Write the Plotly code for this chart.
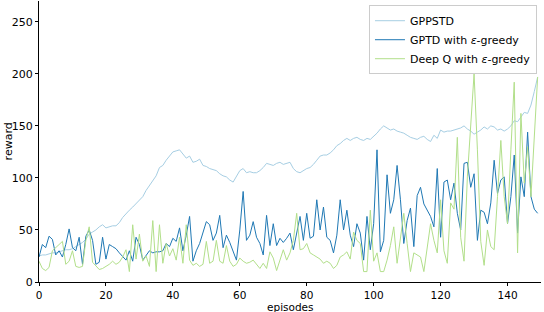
import plotly.graph_objects as go

episodes = list(range(150))

gppstd = [25, 26, 26, 27, 28, 28, 29, 30, 31, 31, 32, 34, 36, 38, 41, 46, 48, 50, 53, 55,
          52, 53, 54, 54, 57, 62, 66, 69, 72, 75, 78, 82, 88, 93, 98, 102, 110, 112, 117, 121,
          125, 126, 127, 123, 119, 121, 115, 116, 118, 112, 111, 109, 108, 107, 104, 102, 101, 98, 96, 101,
          107, 109, 105, 106, 105, 105, 107, 110, 114, 113, 112, 114, 115, 113, 114, 115, 109, 106, 105, 107,
          109, 110, 113, 117, 121, 122, 122, 124, 127, 131, 133, 136, 138, 136, 138, 139, 137, 136, 138, 137,
          140, 143, 147, 150, 148, 146, 147, 145, 144, 143, 141, 139, 138, 137, 139, 140, 137, 135, 141, 138,
          146, 144, 145, 145, 146, 147, 148, 150, 147, 145, 142, 144, 146, 149, 147, 150, 149, 146, 147, 145,
          147, 150, 155, 154, 158, 163, 162, 170, 183, 197]

gptd = [24, 36, 33, 44, 41, 26, 30, 24, 36, 51, 33, 30, 43, 17, 44, 50, 40, 17, 19, 43,
        22, 36, 34, 32, 28, 24, 21, 30, 20, 43, 36, 21, 26, 30, 28, 29, 29, 30, 37, 34,
        42, 39, 52, 30, 45, 63, 20, 30, 37, 47, 58, 55, 40, 47, 64, 33, 45, 38, 30, 21,
        50, 87, 40, 45, 58, 43, 37, 26, 64, 35, 56, 35, 42, 38, 42, 47, 31, 47, 63, 40,
        66, 42, 44, 79, 50, 72, 43, 40, 28, 45, 79, 50, 69, 45, 34, 56, 47, 21, 63, 31,
        56, 127, 29, 40, 103, 66, 79, 112, 79, 37, 59, 71, 34, 83, 91, 75, 69, 63, 53, 109,
        43, 96, 98, 79, 95, 66, 50, 114, 115, 91, 104, 40, 69, 67, 56, 76, 117, 85, 98, 101,
        56, 82, 122, 47, 101, 82, 144, 82, 70, 66]

deepq = [20, 13, 11, 14, 30, 33, 36, 39, 17, 20, 30, 15, 14, 15, 40, 53, 19, 15, 12, 13,
         15, 17, 20, 17, 19, 24, 31, 10, 55, 22, 46, 20, 25, 15, 59, 10, 55, 18, 37, 25,
         32, 21, 43, 18, 55, 21, 16, 18, 15, 17, 39, 18, 20, 40, 20, 18, 35, 20, 15, 17,
         23, 20, 18, 19, 21, 17, 13, 18, 13, 29, 23, 11, 20, 31, 21, 28, 40, 66, 31, 32,
         37, 28, 26, 24, 22, 18, 20, 18, 13, 16, 24, 26, 29, 22, 48, 40, 37, 10, 10, 69,
         20, 28, 10, 10, 21, 35, 53, 18, 40, 66, 37, 10, 28, 26, 24, 10, 34, 56, 40, 28,
         79, 30, 18, 76, 70, 139, 43, 20, 101, 150, 200, 127, 39, 16, 50, 34, 31, 82, 136, 82,
         56, 127, 192, 28, 162, 95, 130, 82, 144, 197]

series_names = ["GPPSTD", "GPTD with <i>ε</i>-greedy", "Deep Q with <i>ε</i>-greedy"]
series_colors = ["#a6cee3", "#1f78b4", "#b2df8a"]
x_ticks = [0, 20, 40, 60, 80, 100, 120, 140]
y_ticks = [0, 50, 100, 150, 200, 250]

fig = go.Figure()
for name, vals, col in zip(series_names, [gppstd, gptd, deepq], series_colors):
    fig.add_trace(go.Scatter(x=episodes, y=vals, mode="lines", name=name,
                             line=dict(color=col, width=1)))

axis_common = dict(showgrid=False, zeroline=False, showline=True, linecolor="black",
                   linewidth=1, ticks="outside", ticklen=3, tickwidth=1, tickcolor="black",
                   mirror=False, automargin=False)

fig.update_layout(
    width=544, height=312,
    margin=dict(l=39, r=3, t=1, b=30),
    paper_bgcolor="white", plot_bgcolor="white",
    font=dict(family="DejaVu Sans", size=11, color="black"),
    xaxis=dict(range=[0, 150], tickvals=x_ticks,
               tickfont=dict(size=10.5, color="black"), **axis_common),
    yaxis=dict(range=[0, 270], tickvals=y_ticks,
               tickfont=dict(size=11, color="black"), **axis_common),
    legend=dict(x=0.992, y=0.985, xanchor="right", yanchor="top",
                bgcolor="rgba(255,255,255,0.8)", bordercolor="#cccccc", borderwidth=1,
                font=dict(size=11), itemwidth=30, tracegroupgap=0),
    annotations=[
        dict(text="episodes", xref="paper", yref="paper", x=0.5, y=-0.088,
             xanchor="center", yanchor="middle", showarrow=False, borderpad=0,
             font=dict(size=10.5)),
        dict(text="reward", xref="paper", yref="paper", x=-0.06, y=0.5,
             xanchor="center", yanchor="middle", textangle=-90, showarrow=False,
             borderpad=0, font=dict(size=11)),
    ],
)

fig.write_html("out.html", config={"displayModeBar": False},
               post_script="document.body.style.margin='0';document.body.style.overflow='hidden';")
